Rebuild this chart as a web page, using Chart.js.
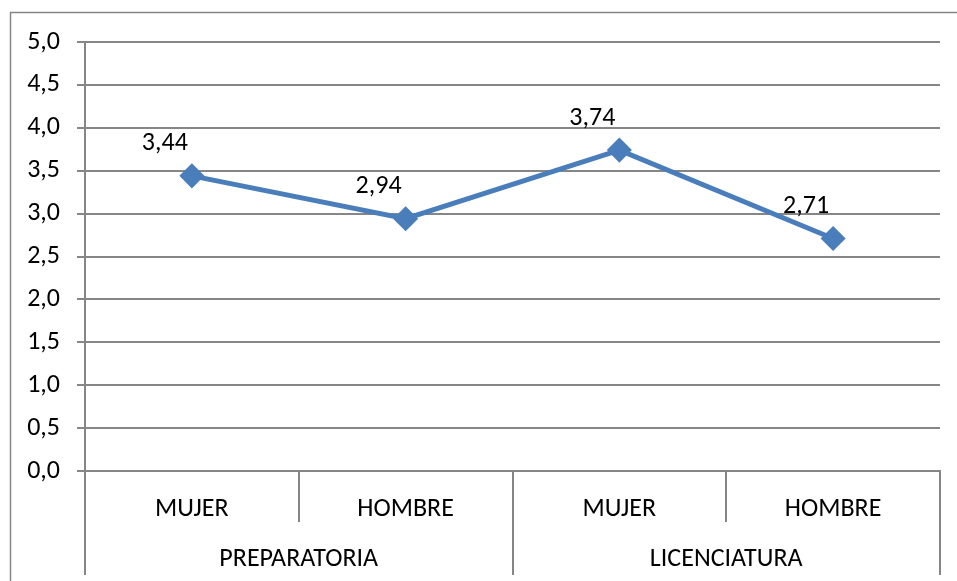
<!DOCTYPE html>
<html>
<head>
<meta charset="utf-8">
<script src="https://cdn.jsdelivr.net/npm/chart.js@4"></script>
<style>
  html, body { margin: 0; padding: 0; background: #fff; }
  #wrap { width: 957px; height: 581px; position: relative; }
</style>
</head>
<body>
<div id="wrap"><canvas id="chart"></canvas></div>
<script>
// datos
const sexos = ['MUJER', 'HOMBRE', 'MUJER', 'HOMBRE'];
const niveles = ['PREPARATORIA', 'LICENCIATURA'];
const valores = [3.44, 2.94, 3.74, 2.71];
const yMin = 0, yMax = 5, yPaso = 0.5;

const GRIS = '#868686';
const AZUL = '#4a7ebb';
const FUENTE = 'Carlito, Lato, "Open Sans", sans-serif';
const TAM = 26;

const coma = v => v.toFixed(1).replace('.', ',');

// marco exterior, separadores del eje x y etiquetas de datos
const extras = {
    id: 'extras',
    beforeDraw(chart) {
        const ctx = chart.ctx;
        ctx.save();
        ctx.strokeStyle = GRIS;
        ctx.lineWidth = 1.5;
        ctx.beginPath();
        ctx.moveTo(10.5, chart.height);
        ctx.lineTo(10.5, 12.5);
        ctx.lineTo(chart.width, 12.5);
        ctx.stroke();
        ctx.restore();
    },
    afterDraw(chart) {
        const ctx = chart.ctx;
        const a = chart.chartArea;
        const x = chart.scales.x;
        const x2 = chart.scales.x2;
        const paso = x.getPixelForValue(1) - x.getPixelForValue(0);
        ctx.save();
        ctx.strokeStyle = GRIS;
        ctx.lineWidth = 2;
        ctx.beginPath();
        // separadores cortos entre sexos
        for (let i = 0; i <= sexos.length; i++) {
            const px = Math.round(x.getPixelForValue(0) - paso / 2 + i * paso);
            ctx.moveTo(px, a.bottom);
            ctx.lineTo(px, x.bottom);
        }
        // separadores largos entre niveles
        const paso2 = x2.getPixelForValue(1) - x2.getPixelForValue(0);
        for (let i = 0; i <= niveles.length; i++) {
            const px = Math.round(x2.getPixelForValue(0) - paso2 / 2 + i * paso2);
            ctx.moveTo(px, a.bottom);
            ctx.lineTo(px, x2.bottom);
        }
        ctx.stroke();

        // etiquetas de datos
        const meta = chart.getDatasetMeta(0);
        ctx.fillStyle = '#000';
        ctx.font = TAM + 'px ' + FUENTE;
        ctx.textAlign = 'center';
        ctx.textBaseline = 'middle';
        meta.data.forEach((p, i) => {
            ctx.fillText(valores[i].toFixed(2).replace('.', ','), p.x - 27, p.y - 32);
        });
        ctx.restore();
    }
};

new Chart(document.getElementById('chart'), {
    type: 'line',
    data: {
        labels: sexos,
        datasets: [{
            data: valores,
            borderColor: AZUL,
            backgroundColor: AZUL,
            borderWidth: 5,
            pointStyle: 'rectRot',
            pointRadius: 9,
            pointHoverRadius: 9,
            tension: 0
        }]
    },
    options: {
        responsive: true,
        maintainAspectRatio: false,
        animation: false,
        events: [],
        layout: { padding: { top: 42, right: 17, left: 0, bottom: 6 } },
        plugins: { legend: { display: false }, tooltip: { enabled: false } },
        scales: {
            y: {
                min: yMin,
                max: yMax,
                afterFit: s => { s.width = 85; },
                ticks: {
                    stepSize: yPaso,
                    padding: 17,
                    color: '#000',
                    font: { family: FUENTE, size: TAM },
                    callback: v => coma(v)
                },
                grid: { color: GRIS, lineWidth: 2, tickLength: 8, tickColor: GRIS },
                border: { color: GRIS, width: 2 }
            },
            x: {
                offset: true,
                afterFit: s => { s.height = 51; },
                grid: { display: false, drawTicks: false },
                border: { color: GRIS, width: 2 },
                ticks: {
                    padding: 23,
                    maxRotation: 0,
                    autoSkip: false,
                    color: '#000',
                    font: { family: FUENTE, size: TAM }
                }
            },
            x2: {
                type: 'category',
                position: 'bottom',
                labels: niveles,
                offset: true,
                afterFit: s => { s.height = 53; },
                grid: { display: false, drawTicks: false },
                border: { display: false },
                ticks: {
                    padding: 22,
                    maxRotation: 0,
                    autoSkip: false,
                    color: '#000',
                    font: { family: FUENTE, size: TAM }
                }
            }
        }
    },
    plugins: [extras]
});
</script>
</body>
</html>
